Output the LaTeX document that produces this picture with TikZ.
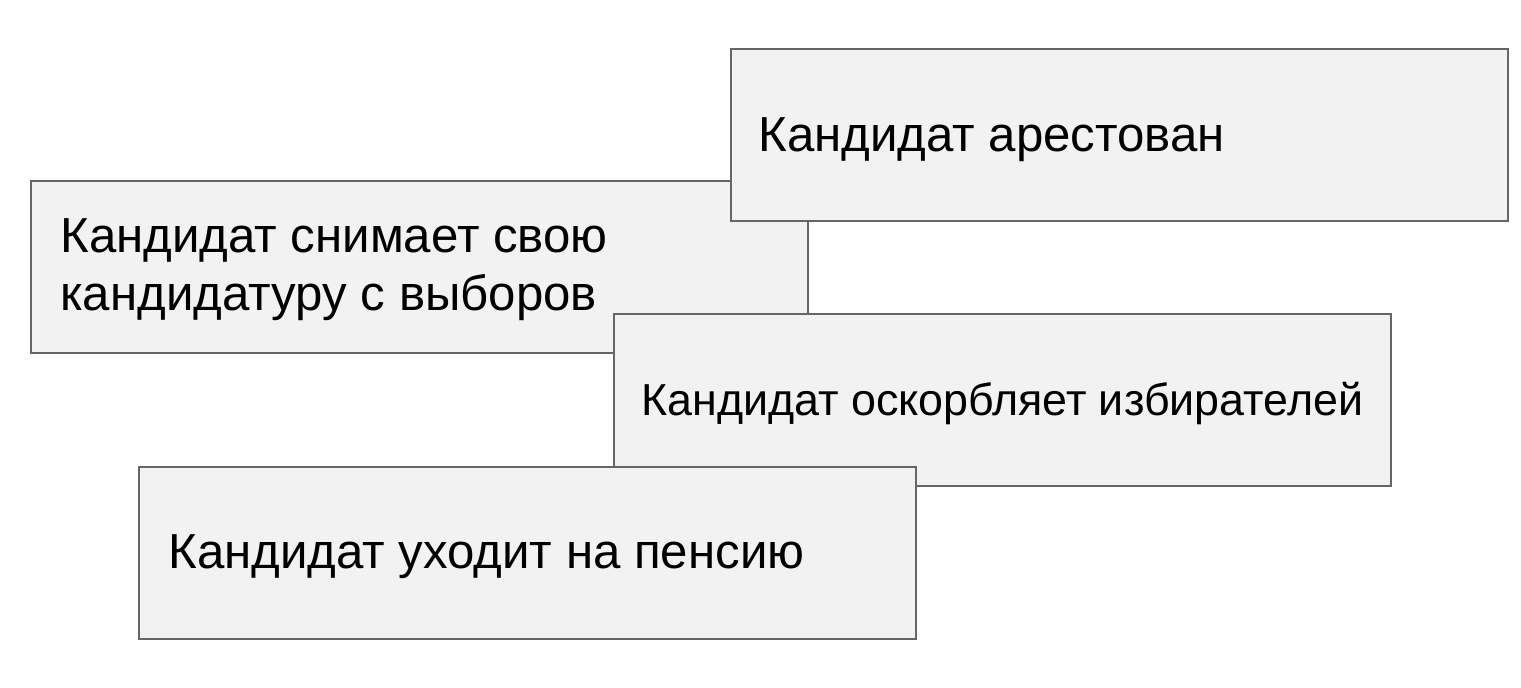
\documentclass[tikz,border=0pt]{standalone}
\usepackage{fontspec}
\setmainfont{Liberation Sans}
\begin{document}
\begin{tikzpicture}[x=0.02cm,y=-0.02cm,
  box/.style={draw=black!60,line width=1.2pt,fill=black!5,minimum width=15.54cm,minimum height=3.44cm,inner sep=0pt,anchor=north west},
  lbl/.style={anchor=west,inner sep=0pt,font=\fontsize{28}{33}\selectfont,align=left}]
\useasboundingbox (0,0) rectangle (1521,688);
\node[box] (b) at (30,180) {};
\node[lbl] (tb) at (60,270) {Кандидат снимает свою\\кандидатуру с выборов};
\node[box] (a) at (730,48) {};
\node[lbl] (ta) at (758,140) {Кандидат арестован};
\node[box] (c) at (613,313) {};
\node[lbl,font=\fontsize{25.5}{30}\selectfont] (tc) at (641,404) {Кандидат оскорбляет избирателей};
\node[box] (d) at (138,466) {};
\node[lbl] (td) at (168,557) {Кандидат уходит на пенсию};
\end{tikzpicture}
\end{document}
